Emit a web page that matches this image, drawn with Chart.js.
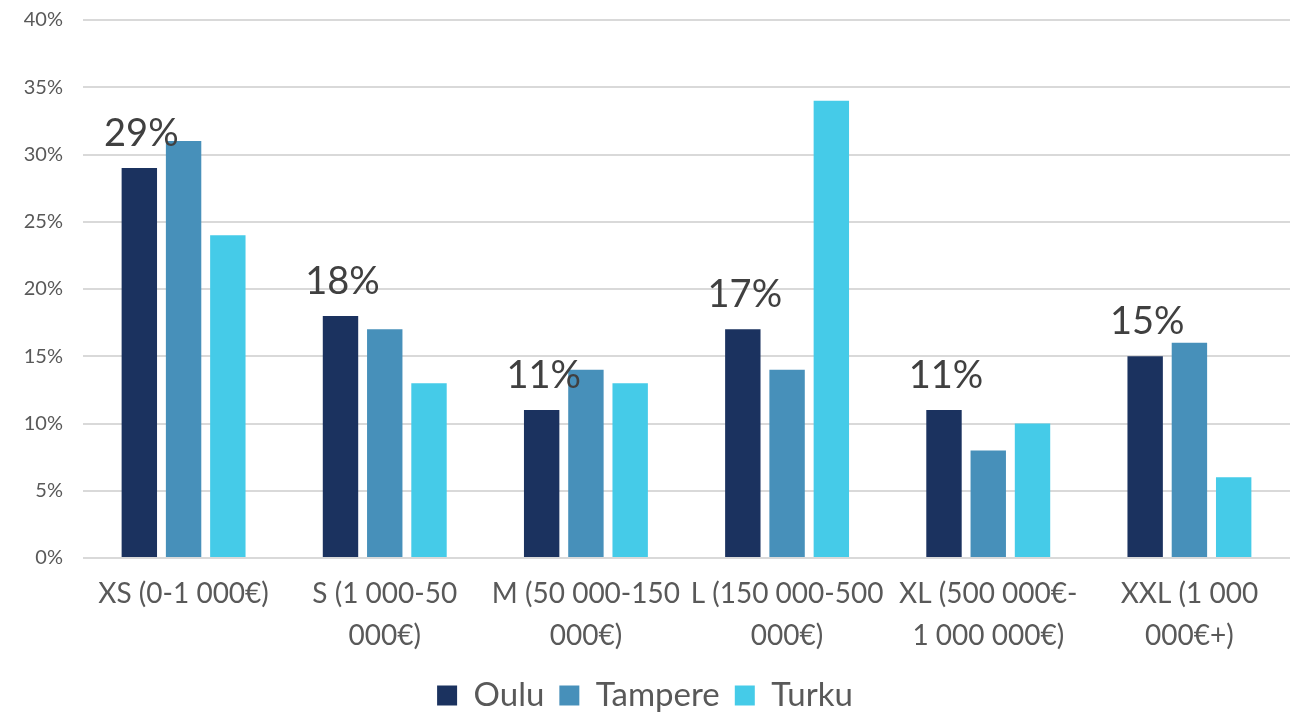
<!doctype html>
<html>
<head>
<title>Bar Chart</title>
<script src="https://cdn.jsdelivr.net/npm/chart.js@4/dist/chart.umd.min.js"></script>
<style>
body { margin: 0; background: #fff; }
#wrap { width: 1296px; height: 713px; }
</style>
</head>
<body>
<div id="wrap"><canvas id="canvas"></canvas></div>
<script>
var categories = [
    ["XS (0-1 000€)"],
    ["S (1 000-50", "000€)"],
    ["M (50 000-150", "000€)"],
    ["L (150 000-500", "000€)"],
    ["XL (500 000€-", "1 000 000€)"],
    ["XXL (1 000", "000€+)"]
];
var oulu = [29, 18, 11, 17, 11, 15];
var tampere = [31, 17, 14, 14, 8, 16];
var turku = [24, 13, 13, 34, 10, 6];
var yTicks = [0, 5, 10, 15, 20, 25, 30, 35, 40];

var FONT = "Lato, 'Open Sans', sans-serif";

// percent labels above the Oulu bars
var barLabels = {
    id: 'barLabels',
    afterDatasetsDraw: function(chart) {
        var ctx = chart.ctx;
        var meta = chart.getDatasetMeta(0);
        ctx.save();
        ctx.font = "38px " + FONT;
        ctx.fillStyle = "#404040";
        ctx.textAlign = "center";
        ctx.textBaseline = "alphabetic";
        meta.data.forEach(function(bar, i) {
            ctx.fillText(oulu[i] + "%", bar.x + 2, bar.y - 22);
        });
        ctx.restore();
    }
};

var config = {
    type: 'bar',
    data: {
        labels: categories,
        datasets: [
            { label: "Oulu", data: oulu, backgroundColor: "#1b325f" },
            { label: "Tampere", data: tampere, backgroundColor: "#4790ba" },
            { label: "Turku", data: turku, backgroundColor: "#45cbe8" }
        ]
    },
    options: {
        responsive: true,
        maintainAspectRatio: false,
        animation: false,
        layout: { padding: { top: 20, right: 6, left: 0, bottom: -9 } },
        datasets: { bar: { categoryPercentage: 0.66, barPercentage: 0.8 } },
        plugins: {
            tooltip: { enabled: false },
            legend: {
                position: 'bottom',
                labels: {
                    font: { family: FONT, size: 33 },
                    color: "#595959",
                    boxWidth: 20,
                    boxHeight: 20,
                    padding: 15
                }
            }
        },
        scales: {
            x: {
                grid: { display: false },
                border: { display: false },
                ticks: {
                    font: { family: FONT, size: 28, lineHeight: 1.5 },
                    color: "#595959",
                    maxRotation: 0,
                    autoSkip: false,
                    padding: 7
                }
            },
            y: {
                min: 0,
                max: 40,
                afterFit: function(scale) {
                    scale.width = 83;
                    scale.paddingTop = 0;
                    scale.paddingBottom = 0;
                },
                afterBuildTicks: function(scale) {
                    scale.ticks = yTicks.map(function(v) { return { value: v }; });
                },
                grid: { color: "#d9d9d9", lineWidth: 2, drawTicks: false },
                border: { display: false },
                ticks: {
                    font: { family: FONT, size: 20 },
                    color: "#595959",
                    padding: 20,
                    callback: function(v) { return v + "%"; }
                }
            }
        }
    },
    plugins: [barLabels]
};

window.onload = function() {
    window.myBar = new Chart(document.getElementById("canvas"), config);
};
</script>
</body>
</html>
